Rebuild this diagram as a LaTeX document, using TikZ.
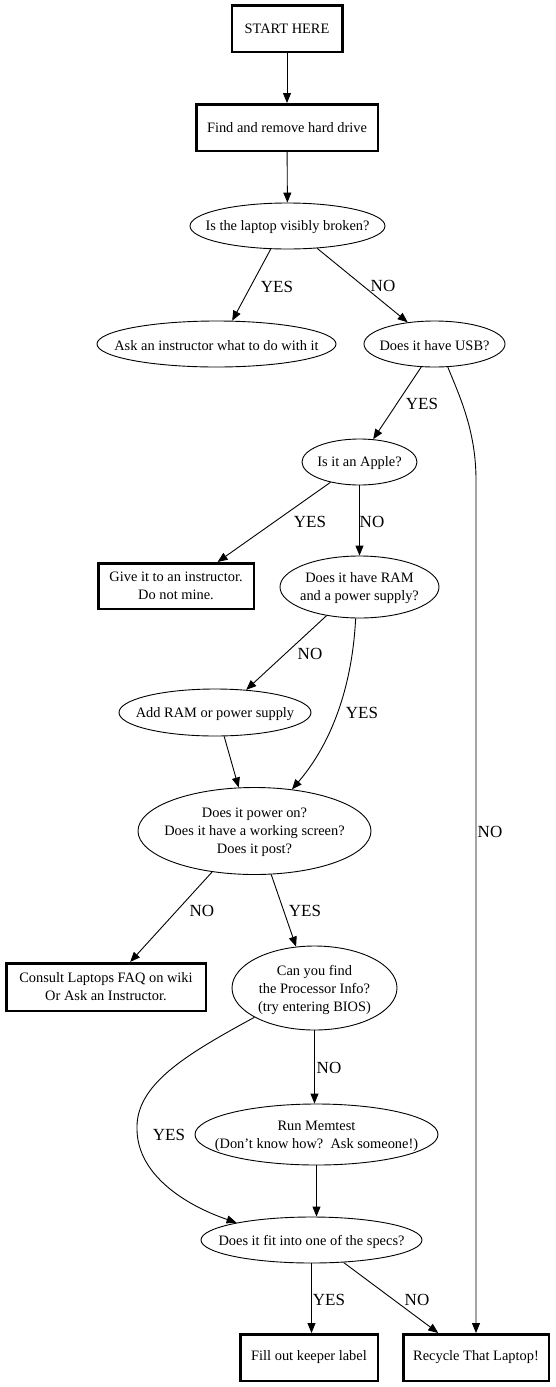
\documentclass[tikz,border=0pt]{standalone}
\usepackage{fontspec}
\setmainfont{Liberation Serif}
\usetikzlibrary{shapes.geometric,arrows.meta,calc}
\begin{document}
\begin{tikzpicture}[x=1pt,y=-1pt,
  boxnode/.style={draw, line width=2.5pt, rectangle, inner sep=0pt, align=center, font=\fontsize{14.4}{18}\selectfont},
  ellnode/.style={draw, line width=0.9pt, ellipse, inner sep=0pt},
  txt/.style={inner sep=0pt, align=center, yshift=-1.5pt, font=\fontsize{14.4}{18}\selectfont},
  conn/.style={line width=0.9pt, -{Triangle[length=10pt,width=8pt]}},
  lbl/.style={font=\fontsize{17}{20}\selectfont, inner sep=0pt}]
\fill[white] (0,0) rectangle (555,1387);
\useasboundingbox (0,0) rectangle (555,1387);

% box nodes
\node[boxnode, minimum width=110.5pt, minimum height=46.5pt] (start) at (287,28.7) {START HERE};
\node[boxnode, minimum width=181.5pt, minimum height=46.5pt] (find) at (287,127.5) {Find and remove hard drive};
\node[boxnode, minimum width=155.5pt, minimum height=45.5pt] (give) at (176,586) {Give it to an instructor.\\Do not mine.};
\node[boxnode, minimum width=199.5pt, minimum height=47.5pt] (consult) at (106,987) {Consult Laptops FAQ on wiki\\Or Ask an Instructor.};
\node[boxnode, minimum width=137.5pt, minimum height=46.5pt] (fill) at (309,1357.5) {Fill out keeper label};
\node[boxnode, minimum width=145.5pt, minimum height=46.5pt] (recycle) at (476,1357.5) {Recycle That Laptop!};

% ellipse nodes (outline) and their texts
\node[ellnode, minimum width=195pt, minimum height=46pt] (broken) at (287.5,226) {};
\node[txt] (brokenT) at (broken) {Is the laptop visibly broken?};
\node[ellnode, minimum width=239pt, minimum height=46pt] (ask) at (216.5,344) {};
\node[txt] (askT) at (ask) {Ask an instructor what to do with it};
\node[ellnode, minimum width=141pt, minimum height=46pt] (usb) at (434.5,344) {};
\node[txt] (usbT) at (usb) {Does it have USB?};
\node[ellnode, minimum width=115pt, minimum height=46pt] (apple) at (359.5,462) {};
\node[txt] (appleT) at (apple) {Is it an Apple?};
\node[ellnode, minimum width=159pt, minimum height=62pt] (ram) at (359.5,587) {};
\node[txt] (ramT) at (ram) {Does it have RAM\\and a power supply?};
\node[ellnode, minimum width=192pt, minimum height=47pt] (add) at (215,712.5) {};
\node[txt] (addT) at (add) {Add RAM or power supply};
\node[ellnode, minimum width=233pt, minimum height=87pt] (power) at (254.5,831) {};
\node[txt] (powerT) at (power) {Does it power on?\\Does it have a working screen?\\Does it post?};
\node[ellnode, minimum width=165pt, minimum height=84pt] (proc) at (314.5,988) {};
\node[txt] (procT) at (proc) {Can you find\\the Processor Info?\\(try entering BIOS)};
\node[ellnode, minimum width=243pt, minimum height=61pt] (mem) at (316.5,1134.5) {};
\node[txt] (memT) at (mem) {Run Memtest\\(Don{\char39}t know how?\ \ Ask someone!)};
\node[ellnode, minimum width=221pt, minimum height=46pt] (specs) at (311.5,1240) {};
\node[txt] (specsT) at (specs) {Does it fit into one of the specs?};

\coordinate (usbturn) at (476,480);

% connectors
\draw[conn] (start) -- (find);
\draw[conn] (find) -- (broken);
\draw[conn] (broken.234) -- (ask.56);
\draw[conn] (broken.323) -- (usb.141);
\draw[conn] (usb.240) -- (apple.59);
\draw[conn] (usb.300) .. controls (459,395) and (476,430) .. (usbturn) -- (recycle.north);
\draw[conn] (apple.215) -- (give.30);
\draw[conn] (apple.south) -- (ram.north);
\draw[conn] (ram.221) -- (add.36);
\draw[conn] (ram.263) .. controls (352,690) and (330,745) .. (power.48);
\draw[conn] (add.291) -- (power.110);
\draw[conn] (power.224) -- (consult.46);
\draw[conn] (power.291) -- (proc.114);
\draw[conn] (proc.south) -- (proc.south |- mem.north);
\draw[conn] (proc.206) .. controls (185,1055) and (135,1085) .. (137,1130)
   .. controls (138,1175) and (185,1205) .. (specs.167);
\draw[conn] (mem.south) -- (mem.south |- specs.north);
\draw[conn] (specs.south) -- (specs.south |- fill.north);
\draw[conn] (specs.325) -- (recycle.147);

% labels
\node[lbl] (l1) at (277,287) {YES};
\node[lbl] (l2) at (383,286) {NO};
\node[lbl] (l3) at (422,404) {YES};
\node[lbl] (l4) at (490,832) {NO};
\node[lbl] (l5) at (310,522) {YES};
\node[lbl] (l6) at (372,522) {NO};
\node[lbl] (l7) at (310,654) {NO};
\node[lbl] (l8) at (362,713) {YES};
\node[lbl] (l9) at (202,911) {NO};
\node[lbl] (l10) at (305,911) {YES};
\node[lbl] (l11) at (329,1068) {NO};
\node[lbl] (l12) at (169,1135) {YES};
\node[lbl] (l13) at (329,1300) {YES};
\node[lbl] (l14) at (417,1300) {NO};
\end{tikzpicture}
\end{document}
